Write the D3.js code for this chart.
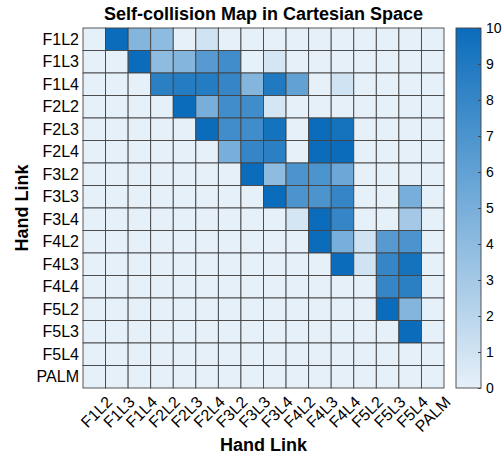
<!DOCTYPE html>
<html>
<head>
<meta charset="utf-8">
<script src="https://cdn.jsdelivr.net/npm/d3@7"></script>
<style>
  body { margin: 0; background: #fff; }
  text { font-family: "Liberation Sans", Arial, Helvetica, sans-serif; }
</style>
</head>
<body>
<div id="chart"></div>
<script>
const links = ['F1L2', 'F1L3', 'F1L4', 'F2L2', 'F2L3', 'F2L4', 'F3L2', 'F3L3',
    'F3L4', 'F4L2', 'F4L3', 'F4L4', 'F5L2', 'F5L3', 'F5L4', 'PALM']

// one row per hand link (top to bottom), one value per column link
const rowF1L2 = [0, 10, 4.5, 4, 0, 1, 0, 0, 0, 0, 0, 0, 0, 0, 0, 0]
const rowF1L3 = [0, 0, 10, 4, 4.5, 6.5, 7.5, 0, 0.8, 0, 0, 0, 0, 0, 0, 0]
const rowF1L4 = [0, 0, 0, 8.5, 8.8, 8.8, 8, 4.5, 9, 6, 0, 1, 0, 0, 0, 0]
const rowF2L2 = [0, 0, 0, 0, 10, 5, 7.5, 7.5, 0.8, 0, 0, 0, 0, 0, 0, 0]
const rowF2L3 = [0, 0, 0, 0, 0, 10, 7.5, 7.5, 9.5, 0, 10, 9.5, 0, 0, 0, 0]
const rowF2L4 = [0, 0, 0, 0, 0, 0, 5, 8, 8.5, 0, 10, 10, 0, 0, 0, 0]
const rowF3L2 = [0, 0, 0, 0, 0, 0, 0, 10, 4, 7, 7, 5.5, 0, 0, 0, 0]
const rowF3L3 = [0, 0, 0, 0, 0, 0, 0, 0, 10, 7, 7, 8, 0, 0, 5, 0]
const rowF3L4 = [0, 0, 0, 0, 0, 0, 0, 0, 0, 0.8, 10, 8, 0, 0, 3, 0]
const rowF4L2 = [0, 0, 0, 0, 0, 0, 0, 0, 0, 0, 10, 5, 1, 6.5, 7, 0]
const rowF4L3 = [0, 0, 0, 0, 0, 0, 0, 0, 0, 0, 0, 10, 1, 8, 9.5, 0]
const rowF4L4 = [0, 0, 0, 0, 0, 0, 0, 0, 0, 0, 0, 0, 0, 8, 8.5, 0]
const rowF5L2 = [0, 0, 0, 0, 0, 0, 0, 0, 0, 0, 0, 0, 0, 10, 4.5, 0]
const rowF5L3 = [0, 0, 0, 0, 0, 0, 0, 0, 0, 0, 0, 0, 0, 0, 10, 0]
const rowF5L4 = [0, 0, 0, 0, 0, 0, 0, 0, 0, 0, 0, 0, 0, 0, 0, 0]
const rowPALM = [0, 0, 0, 0, 0, 0, 0, 0, 0, 0, 0, 0, 0, 0, 0, 0]

const rows = [rowF1L2, rowF1L3, rowF1L4, rowF2L2, rowF2L3, rowF2L4, rowF3L2, rowF3L3,
    rowF3L4, rowF4L2, rowF4L3, rowF4L4, rowF5L2, rowF5L3, rowF5L4, rowPALM]

const colorTicks = [0, 1, 2, 3, 4, 5, 6, 7, 8, 9, 10]

const width = 503
const height = 455
const marginLeft = 83, marginTop = 28
const chartWidth = 361, chartHeight = 360

const svg = d3.select('#chart').append('svg')
    .attr('width', width)
    .attr('height', height)

// flatten to cells
const cells = []
rows.forEach((r, i) => r.forEach((v, j) => cells.push({ row: links[i], col: links[j], value: v })))

const x = d3.scaleBand().domain(links).range([0, chartWidth])
const y = d3.scaleBand().domain(links).range([0, chartHeight])
const color = d3.scaleLinear().domain([0, 10]).range(['#e6f0f9', '#0a6cbb'])

const g = svg.append('g')
    .attr('transform', `translate(${marginLeft},${marginTop})`)

g.selectAll('rect.cell')
    .data(cells)
    .join('rect')
    .attr('class', 'cell')
    .attr('x', d => x(d.col))
    .attr('y', d => y(d.row))
    .attr('width', x.bandwidth())
    .attr('height', y.bandwidth())
    .attr('fill', d => color(d.value))
    .attr('stroke', '#444')
    .attr('stroke-width', 0.9)

// row labels
g.selectAll('text.ylab')
    .data(links)
    .join('text')
    .attr('class', 'ylab')
    .attr('x', -4)
    .attr('y', d => y(d) + y.bandwidth() / 2)
    .attr('dy', '0.35em')
    .attr('text-anchor', 'end')
    .attr('font-size', 16)
    .text(d => d)

// column labels, rotated
g.selectAll('text.xlab')
    .data(links)
    .join('text')
    .attr('class', 'xlab')
    .attr('text-anchor', 'end')
    .attr('font-size', 16)
    .attr('transform', d => `translate(${x(d) + x.bandwidth() / 2 + 19},${chartHeight + 15}) rotate(-45)`)
    .text(d => d)

// titles
svg.append('text')
    .attr('x', marginLeft + chartWidth / 2)
    .attr('y', 20)
    .attr('text-anchor', 'middle')
    .attr('font-size', 18)
    .attr('font-weight', 'bold')
    .text('Self-collision Map in Cartesian Space')

svg.append('text')
    .attr('x', marginLeft + chartWidth / 2)
    .attr('y', 451)
    .attr('text-anchor', 'middle')
    .attr('font-size', 18)
    .attr('font-weight', 'bold')
    .text('Hand Link')

svg.append('text')
    .attr('transform', `translate(28,${marginTop + chartHeight / 2}) rotate(-90)`)
    .attr('text-anchor', 'middle')
    .attr('font-size', 18)
    .attr('font-weight', 'bold')
    .text('Hand Link')

// colorbar
const cbX = 456, cbW = 25
const cbY = d3.scaleLinear().domain([0, 10]).range([marginTop + chartHeight, marginTop])

const grad = svg.append('defs').append('linearGradient')
    .attr('id', 'cb')
    .attr('x1', 0).attr('y1', 1).attr('x2', 0).attr('y2', 0)
grad.append('stop').attr('offset', 0).attr('stop-color', color(0))
grad.append('stop').attr('offset', 1).attr('stop-color', color(10))

svg.append('rect')
    .attr('x', cbX)
    .attr('y', cbY(10))
    .attr('width', cbW)
    .attr('height', cbY(0) - cbY(10))
    .attr('fill', 'url(#cb)')
    .attr('stroke', '#444')
    .attr('stroke-width', 0.9)

const cbAxis = svg.append('g')
    .attr('transform', `translate(${cbX + cbW},0)`)
    .call(d3.axisRight(cbY).tickValues(colorTicks).tickSize(-3).tickPadding(5))
cbAxis.select('.domain').remove()
cbAxis.selectAll('line').attr('stroke', '#444')
cbAxis.selectAll('text')
    .attr('font-size', 14)
    .attr('font-family', '"Liberation Sans", Arial, sans-serif')
    .attr('fill', '#000')
</script>
</body>
</html>
